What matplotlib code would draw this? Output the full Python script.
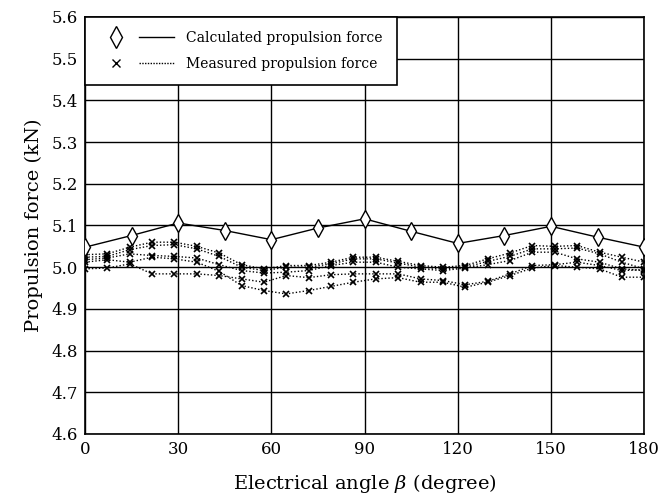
import matplotlib
matplotlib.use("Agg")
import matplotlib.pyplot as plt
from matplotlib.lines import Line2D
from matplotlib.legend_handler import HandlerTuple
from matplotlib.ticker import FormatStrFormatter, MultipleLocator

plt.rcParams['font.family'] = ['DejaVu Serif']
plt.rcParams['mathtext.fontset'] = 'dejavuserif'

# Calculated propulsion force (every 15 degrees)
calc_angle = [0, 15, 30, 45, 60, 75, 90, 105, 120, 135, 150, 165, 180]
calc_force = [5.048, 5.076, 5.106, 5.088, 5.066, 5.094, 5.116, 5.086,
              5.057, 5.076, 5.098, 5.072, 5.048]

# Measured propulsion force (every 7.2 degrees), several runs
meas_angle = [0, 7.2, 14.4, 21.6, 28.8, 36, 43.2, 50.4, 57.6, 64.8, 72, 79.2,
              86.4, 93.6, 100.8, 108, 115.2, 122.4, 129.6, 136.8, 144, 151.2,
              158.4, 165.6, 172.8, 180]
meas_a = [5.030, 5.032, 5.048, 5.060, 5.060, 5.050, 5.034, 5.006, 4.996, 5.004,
          5.004, 5.012, 5.024, 5.024, 5.014, 5.004, 5.000, 5.004, 5.020, 5.034,
          5.052, 5.050, 5.052, 5.036, 5.024, 5.012]
meas_b = [5.024, 5.026, 5.042, 5.052, 5.054, 5.044, 5.026, 5.000, 4.992, 5.000,
          5.000, 5.008, 5.020, 5.020, 5.010, 5.000, 4.996, 5.000, 5.014, 5.026,
          5.044, 5.044, 5.046, 5.032, 5.012, 4.996]
meas_c = [5.018, 5.022, 5.032, 5.028, 5.026, 5.022, 5.006, 4.992, 4.986, 4.988,
          4.992, 5.004, 5.012, 5.012, 5.000, 4.996, 4.992, 4.998, 5.006, 5.016,
          5.036, 5.036, 5.020, 5.012, 4.996, 4.992]
meas_d = [5.012, 5.018, 5.012, 5.024, 5.020, 5.012, 4.990, 4.956, 4.944, 4.936,
          4.944, 4.954, 4.964, 4.972, 4.975, 4.964, 4.964, 4.952, 4.964, 4.980,
          4.998, 5.004, 5.000, 4.996, 4.976, 4.976]
meas_e = [4.996, 4.998, 5.008, 4.984, 4.984, 4.984, 4.980, 4.972, 4.964, 4.980,
          4.975, 4.982, 4.984, 4.984, 4.984, 4.972, 4.968, 4.958, 4.966, 4.984,
          5.004, 5.006, 5.012, 5.004, 4.992, 4.994]

x_ticks = [0, 30, 60, 90, 120, 150, 180]

fig = plt.figure(figsize=(6.69, 5.0), dpi=100)
ax = fig.add_axes([0.127, 0.132, 0.836, 0.834])

for s in [meas_a, meas_b, meas_c, meas_d, meas_e]:
    ax.plot(meas_angle, s, linestyle=(0, (1, 1.5)), color='black', lw=1.0,
            marker='x', markersize=4.5, markeredgewidth=1.2, zorder=3)

ax.plot(calc_angle, calc_force, '-', color='black', lw=1.0, zorder=4)
ax.plot(calc_angle, calc_force, linestyle='none', marker='d', markersize=9,
        markerfacecolor='white', markeredgecolor='black', markeredgewidth=1.0,
        zorder=5)

ax.set_xlim(0, 180)
ax.set_ylim(4.6, 5.6)
ax.set_xticks(x_ticks)
ax.yaxis.set_major_locator(MultipleLocator(0.1))
ax.yaxis.set_major_formatter(FormatStrFormatter('%.1f'))
ax.tick_params(length=0, labelsize=12, pad=5)
ax.grid(True, color='black', lw=1.0)
ax.set_axisbelow(True)
for sp in ax.spines.values():
    sp.set_linewidth(1.2)

ax.set_xlabel(r'Electrical angle $\beta$ (degree)', fontsize=14, labelpad=10)
ax.set_ylabel('Propulsion force (kN)', fontsize=14, labelpad=6)

h_calc = (Line2D([], [], linestyle='none', marker='d', markersize=11,
                 markerfacecolor='white', markeredgecolor='black'),
          Line2D([], [], color='black', lw=1.0))
h_meas = (Line2D([], [], linestyle='none', marker='x', markersize=6,
                 markeredgecolor='black', markeredgewidth=1.0),
          Line2D([], [], color='black', lw=1.0, linestyle=(0, (1, 1))))
leg = ax.legend([h_calc, h_meas],
                ['Calculated propulsion force', 'Measured propulsion force'],
                handler_map={tuple: HandlerTuple(ndivide=None, pad=0.4)},
                loc='upper left', bbox_to_anchor=(0, 1), borderaxespad=0,
                fancybox=False, framealpha=1, edgecolor='black', fontsize=10,
                handlelength=5.4, handletextpad=0.9, labelspacing=0.85,
                borderpad=1.0)
leg.get_frame().set_linewidth(1.2)
leg.set_zorder(10)

fig.savefig('out.png', dpi=100)
